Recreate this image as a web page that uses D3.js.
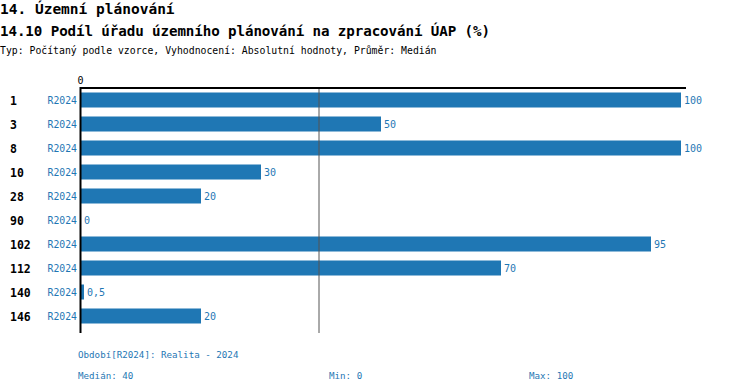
<!DOCTYPE html>
<html><head><meta charset="utf-8">
<script src="https://cdn.jsdelivr.net/npm/d3@7"></script>
<style>body{margin:0;background:#fff}svg{display:block}</style>
</head><body>
<svg id="c" width="750" height="392"></svg>
<script>
const rows = ["1","3","8","10","28","90","102","112","140","146"];
const period = "R2024";
const values = [100,50,100,30,20,0,95,70,0.5,20];
const xTicks = [0];
const median = 40, minV = 0, maxV = 100;
const title1 = "14. Územní plánování";
const title2 = "14.10 Podíl úřadu územního plánování na zpracování ÚAP (%)";
const subtitle = "Typ: Počítaný podle vzorce, Vyhodnocení: Absolutní hodnoty, Průměr: Medián";
const footer = "Období[R2024]: Realita - 2024";

const svg = d3.select("#c");
const FONT = "'DejaVu Sans Mono', 'Liberation Mono', monospace";
const blue = "#1f77b4";
const x = d3.scaleLinear().domain([0,100]).range([81,681]);
const y = d3.scaleBand().domain(rows).range([88,328]).paddingInner(0.375).paddingOuter(0.1875);
const fmt = v => String(v).replace(".", ",");

svg.append("text").attr("x",0).attr("y",14).attr("font-family",FONT).attr("font-weight","bold").attr("font-size",14.5).text(title1);
svg.append("text").attr("x",0).attr("y",36).attr("font-family",FONT).attr("font-weight","bold").attr("font-size",14.2).attr("textLength",490).text(title2);
svg.append("text").attr("x",0).attr("y",54).attr("font-family",FONT).attr("font-size",9.8).text(subtitle);

// bars
svg.append("g").selectAll("rect").data(values).join("rect")
  .attr("x", x(0)).attr("y",(d,i)=>y(rows[i])).attr("width",d=>x(d)-x(0)).attr("height",y.bandwidth()).attr("fill",blue);

// value labels
svg.append("g").selectAll("text").data(values).join("text")
  .attr("x",d=>x(d)+3).attr("y",(d,i)=>y(rows[i])+y.bandwidth()/2+4)
  .attr("font-family",FONT).attr("font-size",10).attr("fill",blue).text(d=>fmt(d));

// row labels
svg.append("g").selectAll("text").data(rows).join("text")
  .attr("x",10).attr("y",d=>y(d)+y.bandwidth()/2+5)
  .attr("font-family",FONT).attr("font-weight","bold").attr("font-size",11.5).text(d=>d);
svg.append("g").selectAll("text").data(rows).join("text")
  .attr("x",77).attr("text-anchor","end").attr("y",d=>y(d)+y.bandwidth()/2+4)
  .attr("font-family",FONT).attr("font-size",9.8).attr("fill",blue).text(period);

// median line
svg.append("line").attr("x1",x(median)-2).attr("x2",x(median)-2).attr("y1",88).attr("y2",333).attr("stroke","#555").attr("stroke-width",1);

// top axis
const ax = svg.append("g").attr("transform","translate(0,88)")
  .call(d3.axisTop(x).tickValues(xTicks).tickSize(0).tickPadding(4));
ax.select(".domain").remove();
ax.selectAll("text").attr("font-family",FONT).attr("font-size",10).attr("fill","#000").attr("x",-1);
svg.append("line").attr("x1",80).attr("x2",686).attr("y1",88).attr("y2",88).attr("stroke","#000").attr("stroke-width",2);
svg.append("line").attr("x1",80.5).attr("x2",80.5).attr("y1",87).attr("y2",333).attr("stroke","#000").attr("stroke-width",2);

// footer
const ff = (t,xx,yy)=>svg.append("text").attr("x",xx).attr("y",yy).attr("font-family",FONT).attr("font-size",9.2).attr("fill",blue).text(t);
ff(footer,78,358);
ff("Medián: " + fmt(median),78,379);
ff("Min: " + fmt(minV),329,379);
ff("Max: " + fmt(maxV),529,379);
</script>
</body></html>
